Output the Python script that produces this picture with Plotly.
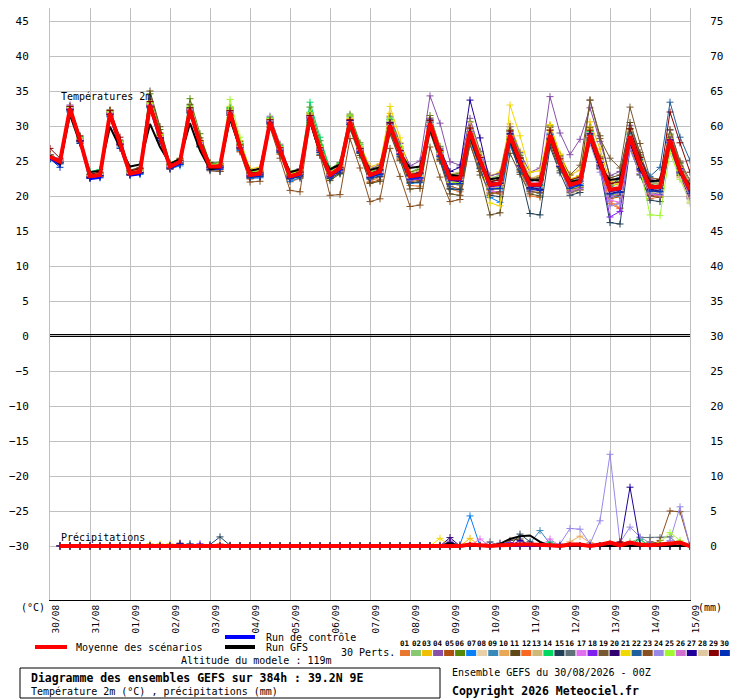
import plotly.graph_objects as go

# ---------------- axis categories ----------------
hours = list(range(0, 385, 6))          # 6-hourly steps 0..384h
p_hours = hours[1:]                       # precipitation starts at +6h
day_ticks = list(range(0, 385, 24))
day_labels = ["30/08", "31/08", "01/09", "02/09", "03/09", "04/09", "05/09", "06/09",
              "07/09", "08/09", "09/09", "10/09", "11/09", "12/09", "13/09", "14/09", "15/09"]
temp_ticks = [-30, -25, -20, -15, -10, -5, 0, 5, 10, 15, 20, 25, 30, 35, 40, 45]
mm_ticks = [0, 5, 10, 15, 20, 25, 30, 35, 40, 45, 50, 55, 60, 65, 70, 75]
pert_names = ["01", "02", "03", "04", "05", "06", "07", "08", "09", "10", "11", "12", "13", "14", "15",
              "16", "17", "18", "19", "20", "21", "22", "23", "24", "25", "26", "27", "28", "29", "30"]
pert_colors = ["#e87830", "#88c870", "#f0c000", "#8850a8", "#b05010", "#588808", "#0880f8", "#e8d0a8",
               "#3888b8", "#e8a858", "#604818", "#f86820", "#d0b878", "#00d860", "#204058", "#607078",
               "#e070f0", "#8020f0", "#785830", "#300070", "#f0d800", "#2060a0", "#885020", "#9888e8",
               "#a0f830", "#d070d0", "#200098", "#e0c8a0", "#880000", "#0030b8"]

# ---------------- temperatures 2m (degC) ----------------
mean_t = [25.6, 24.9, 32.5, 28.0, 22.8, 23.0, 31.8, 27.5, 23.2, 23.5, 33.0, 28.5, 24.2, 24.9, 32.3, 27.5,
          24.2, 24.2, 32.0, 27.0, 23.0, 23.2, 30.6, 26.6, 22.8, 23.2, 31.3, 26.6, 23.0, 24.0, 30.6, 26.6,
          23.0, 23.5, 30.1, 26.3, 22.8, 23.0, 30.4, 26.1, 22.5, 22.5, 29.2, 25.1, 21.6, 21.8, 28.7, 24.9,
          21.6, 21.6, 28.7, 24.7, 21.6, 22.0, 28.7, 24.7, 20.9, 21.1, 28.5, 24.4, 21.3, 21.3, 28.0, 23.7, 20.9]
ctrl_t = [25.4, 24.5, 32.3, 27.8, 22.4, 22.6, 31.4, 27.0, 22.9, 23.1, 32.6, 28.0, 24.0, 24.6, 32.0, 27.2,
          23.9, 24.0, 31.7, 26.8, 22.8, 23.0, 30.5, 26.4, 22.6, 23.0, 31.0, 26.4, 22.8, 23.7, 30.4, 26.4,
          22.8, 23.3, 29.9, 26.0, 22.6, 22.8, 30.2, 25.9, 22.3, 22.3, 29.0, 24.9, 21.4, 21.6, 28.5, 24.7,
          21.4, 21.4, 28.5, 24.5, 21.4, 21.8, 28.5, 24.5, 20.7, 20.9, 28.3, 24.2, 21.1, 21.1, 27.8, 23.5, 20.7]
gfs_t = [25.8, 24.6, 31.6, 27.4, 23.4, 23.6, 29.9, 26.9, 24.2, 24.5, 30.3, 27.0, 24.6, 25.3, 30.4, 26.5,
         23.8, 24.1, 31.0, 26.8, 23.6, 23.9, 30.4, 26.6, 23.4, 23.8, 30.7, 26.2, 23.8, 24.5, 30.2, 26.4,
         23.7, 24.1, 29.8, 26.2, 24.0, 24.2, 29.5, 25.8, 23.0, 22.9, 28.6, 24.6, 22.4, 22.6, 28.1, 24.3,
         22.3, 22.2, 28.4, 24.4, 22.0, 22.3, 28.2, 24.1, 22.3, 22.5, 28.0, 23.8, 22.1, 22.2, 27.6, 23.2, 21.6]

t01 = [25.8, 25.0, 32.7, 28.2, 22.6, 22.9, 31.5, 27.2, 23.4, 23.8, 33.4, 28.9, 24.0, 24.6, 31.9, 27.0,
       23.8, 23.6, 31.2, 26.4, 22.4, 22.8, 30.0, 26.0, 22.0, 22.5, 31.8, 27.2, 23.5, 24.3, 31.0, 26.9,
       22.1, 22.7, 29.5, 25.2, 21.5, 21.4, 29.4, 25.0, 21.0, 20.6, 28.3, 24.6, 20.8, 20.5, 27.9, 23.8,
       20.0, 19.8, 28.0, 24.9, 22.4, 22.9, 29.9, 25.2, 19.2, 18.3, 27.4, 23.1, 19.6, 19.9, 27.0, 22.7, 19.8]
t02 = [25.4, 24.7, 32.3, 28.1, 23.1, 23.4, 32.0, 27.9, 23.0, 23.1, 32.6, 28.2, 24.5, 25.2, 32.9, 27.8,
       24.6, 24.9, 32.5, 27.6, 23.5, 23.9, 31.0, 26.9, 23.6, 23.8, 32.0, 27.0, 22.4, 23.1, 29.7, 25.5,
       23.8, 24.4, 31.2, 27.0, 23.4, 24.1, 31.2, 26.8, 22.2, 21.7, 28.5, 24.2, 22.5, 23.0, 29.9, 26.0,
       20.8, 20.3, 27.5, 23.9, 21.0, 21.3, 27.8, 24.0, 21.8, 22.2, 29.6, 25.3, 22.0, 21.6, 28.9, 24.6, 21.5]
t03 = [25.7, 25.1, 32.6, 27.9, 22.9, 23.2, 32.2, 27.8, 23.3, 23.4, 32.8, 28.6, 24.3, 24.8, 32.0, 27.3,
       24.0, 24.3, 32.8, 27.9, 23.9, 24.1, 31.1, 27.2, 23.1, 23.5, 30.7, 26.0, 23.6, 24.6, 31.5, 27.4,
       24.2, 24.6, 31.8, 27.6, 21.9, 22.0, 29.4, 25.6, 21.7, 21.6, 28.2, 24.7, 22.9, 23.4, 30.3, 26.4,
       22.5, 22.9, 30.1, 26.0, 23.0, 23.7, 30.6, 26.7, 22.0, 22.4, 29.2, 25.5, 20.4, 20.1, 26.9, 22.9, 20.1]
t04 = [25.9, 25.2, 33.0, 28.4, 23.0, 23.3, 32.1, 27.7, 23.6, 23.9, 33.3, 28.7, 24.4, 25.0, 32.5, 27.9,
       24.5, 24.6, 32.4, 27.5, 23.3, 23.5, 31.4, 27.4, 23.4, 23.9, 31.6, 27.1, 23.5, 24.5, 31.3, 27.0,
       23.9, 24.4, 31.4, 27.5, 24.3, 25.0, 34.3, 30.4, 24.9, 24.4, 31.1, 26.4, 22.9, 23.2, 29.9, 26.2,
       23.4, 24.0, 34.2, 29.0, 25.9, 28.1, 32.6, 27.8, 22.9, 23.5, 30.1, 25.9, 22.4, 22.1, 29.4, 24.8, 21.8]
t05 = [25.5, 24.8, 32.4, 27.8, 22.7, 22.8, 31.6, 27.6, 23.1, 23.3, 32.9, 28.3, 23.8, 24.5, 32.4, 27.8,
       24.4, 24.1, 31.5, 26.6, 22.6, 22.7, 29.9, 26.0, 22.9, 23.4, 31.9, 27.3, 22.6, 23.4, 30.0, 26.1,
       21.9, 22.3, 29.2, 25.4, 22.1, 22.2, 30.0, 25.4, 21.4, 21.0, 29.0, 25.5, 20.5, 20.3, 27.5, 23.6,
       21.0, 20.9, 28.1, 24.1, 20.6, 20.9, 28.3, 24.4, 19.6, 19.9, 27.5, 24.0, 20.8, 21.0, 27.3, 23.5, 20.4]
t06 = [25.8, 25.0, 32.8, 28.3, 22.8, 23.1, 31.9, 27.8, 23.5, 23.9, 34.6, 29.5, 24.7, 25.4, 33.9, 28.9,
       24.6, 24.7, 32.6, 27.8, 23.6, 23.7, 31.0, 27.0, 23.1, 23.4, 32.7, 27.9, 23.9, 24.8, 31.7, 27.6,
       23.4, 23.8, 30.9, 26.8, 23.4, 23.8, 31.5, 27.1, 23.0, 23.3, 30.6, 26.3, 22.3, 22.7, 29.5, 25.8,
       22.3, 22.6, 30.0, 25.8, 22.0, 22.2, 29.8, 25.6, 21.4, 21.8, 29.6, 25.7, 21.8, 21.9, 28.8, 24.7, 21.7]
t07 = [25.4, 24.6, 32.2, 27.7, 22.5, 22.7, 31.4, 27.0, 23.0, 23.1, 32.7, 28.0, 23.9, 24.3, 31.8, 27.0,
       23.7, 23.5, 31.6, 26.5, 22.5, 22.6, 30.3, 26.2, 22.1, 22.6, 30.6, 25.9, 22.7, 23.5, 30.2, 26.3,
       22.5, 22.9, 29.4, 25.6, 21.8, 21.9, 29.9, 25.6, 21.1, 20.9, 28.0, 23.9, 19.8, 19.1, 27.2, 23.8,
       21.3, 21.2, 28.9, 25.0, 21.2, 21.6, 28.0, 24.0, 20.1, 20.0, 28.4, 24.6, 20.6, 20.2, 27.6, 23.2, 20.5]
t08 = [25.6, 24.9, 32.5, 28.1, 22.9, 23.1, 31.7, 27.4, 23.2, 23.6, 33.1, 28.4, 24.1, 24.7, 32.2, 27.6,
       24.3, 24.4, 31.9, 27.1, 23.1, 23.2, 30.4, 26.4, 22.6, 23.0, 31.0, 26.4, 22.9, 23.8, 30.9, 26.8,
       22.7, 23.3, 30.5, 26.4, 22.4, 22.6, 30.1, 26.0, 22.8, 22.9, 29.8, 25.6, 21.2, 21.4, 28.1, 24.3,
       21.9, 21.8, 29.3, 25.3, 21.4, 21.8, 28.4, 24.3, 21.2, 21.5, 28.9, 24.8, 20.6, 20.4, 27.0, 22.4, 19.3]
t09 = [25.3, 24.6, 32.1, 27.6, 22.7, 23.0, 31.9, 27.6, 23.2, 23.4, 32.7, 28.2, 24.3, 25.1, 32.6, 27.9,
       24.0, 24.2, 32.3, 27.3, 23.3, 23.6, 30.9, 26.9, 23.0, 23.5, 31.2, 26.5, 23.3, 24.1, 30.3, 26.2,
       23.5, 23.8, 30.6, 26.8, 23.1, 23.5, 30.8, 26.3, 22.1, 22.0, 28.4, 24.4, 21.9, 22.4, 29.2, 25.4,
       22.1, 22.4, 28.4, 24.2, 21.0, 21.3, 27.9, 24.1, 20.8, 20.5, 28.8, 25.0, 21.9, 22.1, 28.6, 24.2, 21.4]
t10 = [25.7, 25.0, 32.4, 28.0, 22.8, 23.0, 31.8, 27.6, 23.3, 23.5, 32.9, 28.5, 24.2, 24.9, 32.1, 27.3,
       24.1, 24.0, 31.7, 26.8, 22.8, 23.0, 30.8, 26.8, 22.8, 23.2, 31.1, 26.5, 22.6, 23.5, 30.1, 26.2,
       22.8, 23.3, 29.7, 25.8, 22.9, 23.1, 30.7, 26.4, 22.3, 22.5, 29.5, 25.3, 21.3, 21.6, 28.3, 24.6,
       21.0, 20.7, 27.8, 24.0, 20.4, 20.8, 27.6, 23.8, 18.9, 19.0, 27.8, 24.1, 20.9, 21.2, 28.3, 24.0, 20.2]
t11 = [25.9, 25.1, 32.6, 28.2, 23.0, 23.2, 32.3, 28.0, 23.7, 24.1, 35.0, 29.9, 24.6, 25.3, 33.1, 28.3,
       24.8, 24.6, 32.2, 27.3, 22.8, 22.9, 30.2, 26.3, 22.5, 22.7, 30.5, 25.8, 22.2, 23.2, 29.6, 25.8,
       21.8, 22.1, 28.9, 25.1, 21.0, 21.1, 29.1, 25.0, 20.3, 20.1, 27.5, 23.0, 17.3, 17.6, 26.1, 23.1,
       20.3, 20.0, 27.4, 23.6, 22.1, 22.4, 33.7, 28.6, 22.6, 23.0, 30.5, 26.2, 21.6, 21.5, 28.4, 24.3, 21.0]
t12 = [25.5, 24.8, 32.3, 27.9, 22.6, 22.8, 31.7, 27.3, 23.1, 23.4, 32.8, 28.3, 24.2, 24.8, 32.4, 27.6,
       24.2, 24.2, 32.1, 27.2, 23.0, 23.3, 30.7, 26.7, 22.7, 23.3, 31.5, 26.8, 22.8, 23.9, 30.8, 26.7,
       22.9, 23.4, 30.2, 26.2, 22.7, 22.8, 30.1, 25.9, 21.9, 22.1, 28.9, 24.8, 21.2, 21.1, 28.2, 24.4,
       21.5, 21.4, 28.3, 24.5, 20.8, 21.2, 28.1, 24.0, 18.9, 18.2, 27.1, 23.5, 20.2, 20.0, 27.4, 23.3, 20.3]
t13 = [25.6, 24.9, 32.6, 28.0, 22.8, 23.0, 31.9, 27.6, 23.2, 23.5, 33.0, 28.6, 24.2, 24.9, 32.3, 27.5,
       24.3, 24.3, 32.2, 27.2, 23.2, 23.4, 30.9, 26.9, 23.0, 23.4, 31.4, 26.7, 23.2, 24.2, 30.9, 26.8,
       23.2, 23.8, 30.6, 26.5, 23.3, 23.5, 31.2, 26.9, 23.2, 23.4, 30.5, 26.0, 22.4, 22.6, 29.4, 25.5,
       22.6, 22.8, 29.5, 25.4, 22.3, 22.6, 29.6, 25.5, 21.7, 21.8, 29.3, 25.0, 21.8, 21.9, 28.7, 24.3, 21.9]
t14 = [25.6, 25.0, 32.8, 28.5, 23.5, 23.8, 32.0, 27.8, 23.3, 23.6, 33.2, 28.8, 24.4, 25.1, 32.6, 27.9,
       24.5, 24.6, 32.6, 27.5, 23.4, 23.6, 31.2, 27.2, 23.2, 23.7, 33.4, 28.4, 23.8, 24.7, 31.4, 27.3,
       23.6, 24.0, 31.0, 27.0, 22.7, 22.9, 30.5, 26.3, 22.5, 22.4, 29.1, 25.0, 21.5, 21.6, 28.5, 24.8,
       21.4, 21.5, 28.6, 24.6, 22.1, 22.5, 29.2, 25.3, 21.1, 21.2, 28.7, 24.6, 20.8, 20.9, 27.8, 23.6, 20.6]
t15 = [25.4, 24.7, 32.3, 27.8, 22.7, 22.9, 31.6, 27.3, 23.0, 23.3, 32.8, 28.2, 24.0, 24.6, 32.1, 27.3,
       23.8, 23.9, 31.8, 26.8, 22.6, 22.9, 30.4, 26.3, 22.4, 22.8, 30.8, 26.2, 22.5, 23.3, 30.2, 26.1,
       22.4, 22.8, 29.6, 25.6, 21.9, 22.0, 29.6, 25.2, 21.0, 20.9, 28.2, 24.0, 20.1, 19.9, 27.6, 23.4,
       17.5, 17.3, 27.0, 23.3, 20.1, 20.5, 28.0, 23.9, 16.2, 16.0, 26.8, 23.0, 19.4, 19.2, 27.0, 22.9, 19.6]
t16 = [25.5, 24.8, 32.4, 28.0, 22.9, 23.1, 31.8, 27.5, 23.3, 23.6, 33.0, 28.4, 24.1, 24.7, 32.2, 27.5,
       24.1, 24.1, 31.8, 27.0, 22.9, 23.0, 30.5, 26.5, 22.6, 23.0, 31.2, 26.6, 22.9, 24.0, 30.5, 26.4,
       22.6, 23.1, 29.8, 26.0, 22.3, 22.5, 29.7, 25.6, 21.7, 21.6, 28.5, 24.5, 20.9, 21.0, 28.1, 24.3,
       20.7, 20.4, 28.0, 24.2, 20.5, 20.9, 28.2, 24.3, 19.8, 20.1, 28.1, 24.3, 20.5, 20.4, 27.7, 23.5, 20.7]
t17 = [25.7, 25.1, 32.9, 28.3, 23.0, 23.2, 31.9, 27.6, 23.4, 23.7, 33.1, 28.6, 24.3, 25.0, 32.5, 27.7,
       24.1, 24.2, 32.0, 27.0, 23.0, 23.1, 30.8, 26.8, 22.9, 23.4, 31.5, 26.9, 23.1, 24.0, 30.7, 26.6,
       23.2, 23.7, 30.4, 26.5, 22.6, 22.8, 30.2, 25.9, 22.6, 22.7, 29.5, 25.5, 20.7, 20.6, 28.0, 24.2,
       21.8, 21.9, 29.4, 25.4, 21.7, 22.1, 29.0, 25.0, 19.4, 19.1, 27.9, 24.2, 20.9, 21.1, 28.0, 23.8, 20.9]
t18 = [25.6, 24.9, 32.4, 27.9, 22.8, 23.0, 31.8, 27.4, 23.2, 23.5, 32.9, 28.4, 24.1, 24.8, 32.2, 27.4,
       24.0, 24.0, 31.9, 26.9, 22.8, 23.1, 30.6, 26.5, 22.7, 23.1, 31.1, 26.4, 22.8, 23.7, 30.5, 26.5,
       22.7, 23.2, 30.0, 26.1, 22.3, 22.4, 30.0, 25.7, 21.8, 21.9, 28.9, 24.7, 21.0, 21.2, 28.3, 24.4,
       21.2, 21.0, 28.6, 24.4, 21.1, 21.5, 28.5, 24.3, 17.0, 17.8, 27.6, 23.8, 20.1, 20.3, 27.6, 23.4, 20.0]
t19 = [25.6, 24.8, 32.5, 28.0, 22.8, 23.1, 31.9, 27.5, 23.3, 23.5, 33.1, 28.6, 24.3, 25.0, 32.4, 27.6,
       24.2, 24.3, 32.1, 27.1, 23.1, 23.3, 30.7, 26.7, 22.9, 23.3, 31.3, 26.7, 23.0, 24.0, 30.8, 26.7,
       23.1, 23.6, 30.3, 26.4, 23.0, 23.2, 30.6, 26.3, 22.7, 22.8, 29.7, 25.5, 22.0, 22.3, 29.3, 25.5,
       22.4, 22.6, 29.8, 25.6, 23.0, 24.4, 33.7, 28.2, 25.4, 24.0, 32.7, 27.5, 22.6, 22.4, 29.5, 25.0, 22.2]
t20 = [25.5, 24.8, 32.3, 27.9, 22.7, 22.9, 31.7, 27.4, 23.1, 23.4, 32.9, 28.3, 24.2, 24.9, 32.3, 27.5,
       24.1, 24.1, 31.9, 26.9, 22.9, 23.1, 30.6, 26.6, 22.7, 23.1, 31.2, 26.5, 22.9, 23.8, 30.4, 26.4,
       22.7, 23.2, 29.9, 26.0, 22.5, 22.6, 30.2, 25.9, 21.9, 22.1, 29.0, 24.8, 21.4, 21.5, 28.4, 24.7,
       21.1, 20.9, 28.2, 24.3, 21.3, 21.8, 28.6, 24.5, 20.4, 20.6, 28.2, 24.1, 20.9, 20.7, 27.9, 23.5, 20.6]
t21 = [25.8, 25.1, 32.7, 28.2, 23.0, 23.3, 32.0, 27.7, 23.4, 23.7, 33.2, 28.7, 24.4, 25.1, 32.5, 27.8,
       24.4, 24.5, 32.3, 27.4, 23.3, 23.5, 31.0, 27.0, 23.2, 23.6, 31.7, 27.0, 23.4, 24.3, 31.1, 27.0,
       23.6, 24.2, 32.8, 28.3, 23.2, 23.1, 30.9, 26.4, 21.9, 21.8, 29.6, 25.6, 19.0, 18.6, 33.0, 28.6,
       23.4, 23.6, 30.2, 25.9, 22.4, 22.9, 29.4, 25.3, 21.5, 21.8, 29.0, 24.9, 21.1, 21.0, 28.2, 24.0, 20.8]
t22 = [25.6, 24.9, 32.5, 28.0, 22.8, 23.0, 31.8, 27.4, 23.2, 23.5, 32.9, 28.4, 24.2, 24.9, 32.4, 27.6,
       24.3, 24.3, 32.0, 27.0, 23.1, 23.3, 30.7, 26.7, 22.8, 23.3, 31.3, 26.6, 23.0, 24.0, 30.7, 26.6,
       22.9, 23.5, 30.2, 26.3, 22.9, 23.1, 30.5, 26.2, 22.4, 22.5, 29.2, 25.1, 21.7, 21.9, 28.8, 25.0,
       21.6, 21.6, 28.8, 24.7, 21.7, 22.1, 28.8, 24.8, 21.4, 22.6, 29.0, 25.2, 22.8, 24.1, 33.4, 28.4, 25.1]
t23 = [25.7, 25.0, 32.6, 28.1, 22.9, 23.1, 31.9, 27.4, 23.2, 23.5, 33.0, 28.5, 24.0, 24.6, 32.0, 27.1,
       23.6, 23.5, 31.5, 26.3, 22.0, 22.1, 29.8, 25.4, 20.8, 20.6, 30.5, 25.8, 20.1, 20.2, 28.2, 24.0,
       19.2, 19.6, 26.8, 22.8, 18.5, 18.7, 27.0, 22.7, 19.2, 19.5, 27.4, 23.5, 20.3, 20.6, 28.0, 24.3,
       20.6, 20.5, 27.9, 24.2, 21.0, 21.2, 28.3, 24.8, 20.3, 20.1, 28.0, 24.3, 20.0, 19.8, 27.2, 23.1, 20.0]
t24 = [25.6, 24.9, 32.6, 28.1, 22.8, 23.0, 31.8, 27.4, 23.3, 23.6, 33.0, 28.5, 24.3, 25.0, 32.4, 27.6,
       24.2, 24.3, 32.1, 27.1, 23.0, 23.2, 30.8, 26.8, 22.8, 23.2, 31.4, 26.8, 23.1, 24.1, 30.8, 26.8,
       23.0, 23.5, 30.3, 26.4, 22.8, 23.0, 30.6, 26.2, 22.6, 22.7, 29.5, 25.3, 21.8, 22.0, 29.0, 25.1,
       21.7, 21.8, 29.0, 25.0, 21.9, 22.5, 27.5, 23.4, 18.6, 18.9, 26.7, 23.2, 21.2, 21.0, 27.6, 23.7, 20.5]
t25 = [25.5, 24.9, 32.7, 28.3, 23.0, 23.3, 32.1, 27.8, 23.4, 23.7, 33.3, 28.8, 24.5, 25.2, 32.8, 27.9,
       24.5, 24.6, 33.8, 28.4, 23.5, 23.7, 31.1, 27.0, 23.3, 23.8, 31.9, 27.1, 23.4, 24.4, 31.3, 27.1,
       23.3, 23.9, 30.8, 26.8, 22.6, 22.9, 30.4, 26.1, 22.0, 21.9, 28.9, 24.7, 21.1, 21.2, 28.4, 24.5,
       21.2, 21.1, 28.5, 24.4, 21.0, 21.4, 28.2, 24.3, 20.2, 20.3, 28.0, 24.1, 17.3, 17.2, 26.2, 22.4, 19.1]
t26 = [25.7, 25.0, 32.5, 28.0, 22.9, 23.1, 31.8, 27.5, 23.2, 23.5, 33.0, 28.5, 24.2, 24.9, 32.3, 27.6,
       24.2, 24.2, 32.0, 27.0, 23.0, 23.2, 30.7, 26.7, 22.8, 23.2, 31.3, 26.6, 23.0, 24.0, 30.6, 26.6,
       22.8, 23.3, 30.1, 26.2, 22.5, 22.7, 30.3, 26.0, 22.2, 22.3, 29.1, 25.0, 21.2, 21.4, 28.5, 24.6,
       20.9, 20.8, 28.4, 24.4, 20.7, 21.1, 28.3, 24.2, 19.9, 20.3, 28.3, 24.3, 20.3, 20.1, 27.8, 23.4, 19.8]
t27 = [25.6, 24.9, 32.4, 27.9, 22.7, 22.9, 31.7, 27.4, 23.2, 23.4, 32.9, 28.4, 24.2, 24.9, 32.3, 27.5,
       24.2, 24.2, 32.0, 27.0, 23.0, 23.2, 30.6, 26.6, 22.8, 23.3, 31.4, 26.7, 23.0, 24.0, 30.8, 26.7,
       23.2, 23.7, 30.5, 26.5, 22.9, 23.3, 31.0, 26.7, 23.5, 24.1, 33.7, 28.3, 21.9, 21.8, 28.9, 24.9,
       21.2, 21.0, 28.1, 24.2, 21.4, 21.8, 28.9, 24.8, 20.3, 20.6, 27.6, 23.7, 21.0, 21.1, 28.1, 23.9, 21.2]
t28 = [25.6, 25.0, 32.6, 28.1, 22.9, 23.1, 31.9, 27.6, 23.2, 23.5, 33.0, 28.5, 24.2, 24.9, 32.3, 27.5,
       24.2, 24.3, 32.0, 27.1, 23.1, 23.3, 30.7, 26.7, 22.9, 23.3, 31.3, 26.7, 23.0, 24.0, 30.6, 26.6,
       22.9, 23.4, 30.0, 26.2, 22.6, 22.8, 30.2, 26.0, 22.3, 22.4, 29.1, 25.0, 21.4, 21.6, 28.6, 24.7,
       21.4, 21.3, 28.5, 24.5, 21.3, 21.8, 28.5, 24.6, 20.6, 20.8, 28.3, 24.3, 20.6, 20.4, 27.4, 22.8, 18.9]
t29 = [26.8, 25.4, 32.8, 28.6, 23.1, 23.4, 32.2, 28.4, 23.6, 23.9, 33.5, 29.0, 24.5, 25.1, 32.6, 27.9,
       24.3, 24.4, 32.2, 27.3, 23.3, 23.4, 30.9, 26.9, 23.0, 23.4, 31.5, 26.9, 23.2, 24.1, 30.9, 26.8,
       23.2, 23.8, 30.4, 26.5, 23.1, 23.3, 30.8, 26.5, 22.8, 22.9, 29.7, 25.5, 22.1, 22.3, 29.3, 25.4,
       22.2, 22.3, 29.4, 25.3, 22.3, 22.7, 29.4, 25.4, 21.8, 22.0, 29.6, 25.5, 22.1, 22.3, 32.0, 27.6, 23.4]
t30 = [25.3, 24.1, 32.0, 27.5, 22.5, 22.6, 31.3, 26.8, 23.0, 23.2, 32.6, 27.9, 23.9, 24.5, 31.9, 27.1,
       23.8, 23.8, 31.6, 26.7, 22.7, 22.8, 30.4, 26.3, 22.5, 22.9, 30.9, 26.2, 22.7, 23.6, 30.2, 26.2,
       22.6, 23.1, 29.7, 25.9, 22.4, 22.6, 29.9, 25.7, 21.7, 21.8, 28.7, 24.6, 21.0, 21.1, 28.1, 24.3,
       21.0, 20.8, 28.2, 24.2, 21.1, 21.5, 28.3, 24.3, 20.3, 20.5, 28.0, 23.9, 20.7, 20.6, 27.6, 23.3, 20.4]

# ---------------- precipitation (mm per 6h), +6h .. +384h ----------------
mean_p = [0, 0, 0, 0, 0, 0, 0, 0, 0, 0, 0, 0, 0, 0, 0, 0,
          0, 0, 0, 0, 0, 0, 0, 0, 0, 0, 0, 0, 0, 0, 0, 0,
          0, 0, 0, 0, 0, 0, 0.1, 0.1, 0, 0.2, 0.1, 0, 0.1, 0.2, 0.2, 0.2,
          0.2, 0.1, 0, 0.2, 0.2, 0, 0.2, 0.5, 0.1, 0.5, 0.2, 0.1, 0.2, 0.4, 0.5, 0]
ctrl_p = [0, 0, 0, 0, 0, 0, 0, 0, 0, 0, 0, 0, 0, 0, 0, 0,
          0, 0, 0, 0, 0, 0, 0, 0, 0, 0, 0, 0, 0, 0, 0, 0,
          0, 0, 0, 0, 0, 0, 0, 0, 0, 0, 0, 0, 0, 0, 0, 0,
          0, 0, 0, 0, 0, 0, 0, 0, 0, 0, 0, 0, 0, 0, 0, 0]
gfs_p = [0, 0, 0, 0, 0, 0, 0, 0, 0, 0, 0, 0, 0, 0, 0, 0,
         0, 0, 0, 0, 0, 0, 0, 0, 0, 0, 0, 0, 0, 0, 0, 0,
         0, 0, 0, 0, 0, 0, 0, 0.4, 0, 0, 0, 0, 0.3, 1.0, 1.4, 1.5,
         0.6, 0, 0, 0, 0, 0, 0, 0, 0, 0, 0, 0, 0, 0, 0, 0]

p01 = [0, 0, 0, 0, 0, 0, 0, 0, 0, 0, 0, 0, 0, 0, 0, 0,
       0, 0, 0, 0, 0, 0, 0, 0, 0, 0, 0, 0, 0, 0, 0, 0,
       0, 0, 0, 0, 0, 0, 0, 0, 0, 0, 0, 0, 0, 0, 0, 0,
       0, 0, 0, 0, 0, 0, 0, 0.4, 0, 0, 0, 0, 0, 0, 0, 0]
p02 = [0, 0, 0, 0, 0, 0, 0, 0, 0, 0, 0, 0, 0, 0, 0, 0,
       0, 0, 0, 0, 0, 0, 0, 0, 0, 0, 0, 0, 0, 0, 0, 0,
       0, 0, 0, 0, 0, 0, 0, 0, 0, 0, 0, 0, 0, 0, 0, 0,
       0, 0, 0, 0, 0, 0, 0, 0, 0, 0.6, 1.0, 0, 0, 0, 0, 0]
p03 = [0, 0, 0, 0, 0, 0, 0, 0, 0, 0.3, 0, 0.3, 0, 0, 0, 0,
       0, 0, 0, 0, 0, 0, 0, 0, 0, 0, 0, 0, 0, 0, 0, 0,
       0, 0, 0, 0, 0, 0, 0, 0, 0, 1.1, 0, 0, 0, 0, 0, 0,
       0, 0, 0, 0, 0, 0, 0, 0, 0, 0, 0, 0, 0, 0, 0, 0]
p04 = [0, 0, 0, 0, 0, 0, 0, 0, 0, 0, 0, 0, 0, 0, 0, 0,
       0, 0, 0, 0, 0, 0, 0, 0, 0, 0, 0, 0, 0, 0, 0, 0,
       0, 0, 0, 0, 0, 0, 0, 0.7, 0, 0, 0, 0, 0, 0, 0, 0,
       0, 0, 0, 0, 0, 0, 0, 0, 0, 0, 0, 0, 0, 0, 0, 0]
p05 = [0, 0, 0, 0, 0, 0, 0, 0, 0, 0, 0, 0, 0, 0, 0, 0,
       0, 0, 0, 0, 0, 0, 0, 0, 0, 0, 0, 0, 0, 0, 0, 0,
       0, 0, 0, 0, 0, 0, 0, 0, 0, 0, 0, 0, 0, 0, 0, 0,
       0, 0, 0, 0, 0, 0, 0, 0, 0, 0, 0, 0, 0, 0, 0.5, 0]
p06 = [0, 0, 0, 0, 0, 0, 0, 0, 0, 0, 0, 0, 0, 0, 0, 0,
       0, 0, 0, 0, 0, 0, 0, 0, 0, 0, 0, 0, 0, 0, 0, 0,
       0, 0, 0, 0, 0, 0, 0, 0, 0, 0, 0, 0, 0, 0, 0, 0,
       0, 0, 0, 0, 0, 0, 0, 0, 0, 0, 0, 0, 0, 0, 0, 0]
p07 = [0, 0, 0, 0, 0, 0, 0, 0, 0, 0, 0, 0, 0, 0.3, 0, 0,
       0, 0, 0, 0, 0, 0, 0, 0, 0, 0, 0, 0, 0, 0, 0, 0,
       0, 0, 0, 0, 0, 0, 0, 0, 0.2, 4.3, 0, 0, 0, 0, 0, 0,
       0, 0, 0, 0, 0, 0, 0, 0, 0, 0, 0, 0, 0, 0, 0, 0]
p08 = [0, 0, 0, 0, 0, 0, 0, 0, 0, 0, 0, 0, 0, 0, 0, 0,
       0, 0, 0, 0, 0, 0, 0, 0, 0, 0, 0, 0, 0, 0, 0, 0,
       0, 0, 0, 0, 0, 0, 0, 0, 0, 0, 0, 0, 0, 0, 0, 0,
       0, 0, 0, 0, 0, 0, 0, 0, 0, 0, 0, 0, 0, 0, 0, 0]
p09 = [0, 0, 0, 0, 0, 0, 0, 0, 0, 0, 0, 0, 0, 0, 0, 0,
       0, 0, 0, 0, 0, 0, 0, 0, 0, 0, 0, 0, 0, 0, 0, 0,
       0, 0, 0, 0, 0, 0, 0, 0, 0, 0, 0, 0, 0, 0, 0, 0.4,
       2.2, 0.3, 0, 0, 0, 0, 0, 0, 0, 0, 0, 0, 0, 0, 0, 0]
p10 = [0, 0, 0, 0, 0, 0, 0, 0, 0, 0, 0, 0, 0.3, 0, 0, 0,
       0, 0, 0, 0, 0, 0, 0, 0, 0, 0, 0, 0, 0, 0, 0, 0,
       0, 0, 0, 0, 0, 0, 0, 0, 0, 0, 0, 0, 0, 0, 0, 0,
       0, 0, 0, 0.6, 1.4, 0.5, 0, 0, 0, 0, 0, 0.5, 0, 0, 0, 0]
p11 = [0, 0, 0, 0, 0, 0, 0, 0, 0, 0, 0, 0, 0, 0, 0, 0,
       0, 0, 0, 0, 0, 0, 0, 0, 0, 0, 0, 0, 0, 0, 0, 0,
       0, 0, 0, 0, 0, 0, 0, 0, 0, 0, 0, 0, 0, 0.8, 1.0, 0,
       0, 0, 0, 0, 0, 0, 0, 0, 0, 0, 0, 0, 0, 0, 0, 0]
p12 = [0, 0, 0, 0, 0, 0, 0, 0, 0, 0, 0, 0, 0, 0, 0, 0,
       0.3, 0, 0, 0, 0, 0, 0, 0, 0, 0, 0, 0, 0, 0, 0, 0,
       0, 0, 0, 0, 0, 0, 0, 0, 0, 0, 0, 0, 0, 0, 0, 0,
       0, 0, 0, 0, 0, 0, 0, 0, 0, 0, 0, 0, 0, 0, 0, 0]
p13 = [0, 0, 0, 0, 0, 0, 0, 0, 0, 0, 0, 0, 0, 0, 0, 0,
       0, 0, 0, 0, 0, 0, 0, 0, 0, 0, 0, 0, 0, 0, 0, 0,
       0, 0, 0, 0, 0, 0, 0, 0, 0, 0, 0, 0, 0, 0, 0, 0,
       0, 0, 0, 0, 0, 0, 0, 0, 0, 0, 0, 0, 0, 0, 0, 0]
p14 = [0, 0, 0, 0, 0, 0, 0, 0, 0, 0, 0, 0, 0, 0, 0, 0,
       0, 0, 0, 0, 0, 0, 0, 0, 0, 0, 0, 0, 0, 0, 0, 0,
       0, 0, 0, 0, 0, 0, 0, 0, 0, 0, 0, 0, 0, 0, 0, 0,
       0, 0.6, 0, 0, 0, 0, 0, 0, 0, 0, 0.9, 0, 0, 0, 0, 0]
p15 = [0, 0, 0, 0, 0, 0, 0, 0, 0, 0, 0, 0, 0, 0, 0, 0.2,
       1.3, 0.1, 0, 0, 0, 0, 0, 0, 0, 0, 0, 0, 0, 0, 0, 0,
       0, 0, 0, 0, 0, 0, 0, 0, 0, 0, 0, 0, 0, 0, 1.7, 0.6,
       0, 0, 0, 0, 0, 0, 0, 0, 0, 0, 0, 0, 0, 0, 0, 0]
p16 = [0, 0, 0, 0, 0, 0, 0, 0, 0, 0, 0, 0, 0, 0.3, 0, 0,
       0, 0, 0, 0, 0, 0, 0, 0, 0, 0, 0, 0, 0, 0, 0, 0,
       0, 0, 0, 0, 0, 0, 0, 0, 0, 0, 0, 0.6, 0, 0, 0, 0,
       0, 0, 0, 0, 0, 0, 0, 0, 0, 0, 1.2, 1.2, 1.2, 1.3, 0, 0]
p17 = [0, 0, 0, 0, 0, 0, 0, 0, 0, 0, 0, 0, 0, 0, 0, 0,
       0, 0, 0, 0, 0, 0, 0, 0, 0, 0, 0, 0, 0, 0, 0, 0,
       0, 0, 0, 0, 0, 0, 0, 0, 0, 0, 1.0, 0, 0, 0, 0, 0,
       0, 1.0, 0, 0, 0, 0, 0, 0, 0, 0, 0, 0, 0, 0, 0, 0]
p18 = [0, 0, 0, 0, 0, 0, 0, 0, 0, 0, 0, 0, 0, 0, 0.3, 0,
       0, 0, 0, 0, 0, 0, 0, 0, 0, 0, 0, 0, 0, 0, 0, 0,
       0, 0, 0, 0, 0, 0, 0, 0, 0, 0, 0, 0, 0, 0.5, 0, 0,
       0, 0, 0, 0, 0, 0, 0, 0, 0, 0, 0, 0, 0, 0, 0, 0]
p19 = [0, 0, 0, 0, 0, 0, 0, 0, 0, 0, 0, 0, 0, 0, 0, 0,
       0, 0, 0, 0, 0, 0, 0, 0, 0, 0, 0, 0, 0, 0, 0, 0,
       0, 0, 0, 0, 0, 0, 0, 0, 0, 0, 0, 0, 0, 0, 0, 0,
       0, 0, 0, 0, 0, 0, 0, 0, 0, 0, 0, 0.6, 0.4, 0, 0, 0]
p20 = [0, 0, 0, 0, 0, 0, 0, 0, 0, 0, 0, 0, 0, 0, 0, 0,
       0, 0, 0, 0, 0, 0, 0, 0, 0, 0, 0, 0, 0, 0, 0, 0,
       0, 0, 0, 0, 0, 0, 0, 1.2, 0, 0, 0, 0, 0.4, 0, 0, 0,
       0, 0, 0, 0, 0, 0, 0, 0, 0, 0, 0, 0, 0, 0, 0, 0]
p21 = [0, 0, 0, 0, 0, 0, 0, 0, 0, 0, 0.3, 0, 0, 0, 0, 0,
       0, 0, 0, 0, 0, 0, 0, 0, 0, 0, 0, 0, 0, 0, 0, 0,
       0, 0, 0, 0, 0, 0, 1.1, 0, 0, 0.3, 0, 0, 0, 0, 0, 0,
       0, 0, 0, 0, 0, 0, 0, 0, 0, 0, 0, 0, 0, 0, 0, 0]
p22 = [0, 0, 0, 0, 0, 0, 0, 0, 0, 0, 0, 0, 0, 0, 0, 0,
       0, 0, 0, 0, 0, 0, 0, 0, 0, 0, 0, 0, 0, 0, 0, 0,
       0, 0, 0, 0, 0, 0, 0, 0, 0, 0, 0, 0, 0, 0, 0, 0,
       0, 0, 0, 0, 0, 0, 0, 0, 0.3, 0, 0, 0, 0, 0, 0, 0]
p23 = [0, 0, 0, 0, 0, 0, 0, 0, 0, 0, 0, 0, 0, 0, 0, 0,
       0, 0, 0, 0, 0, 0, 0, 0, 0, 0, 0, 0, 0, 0, 0, 0,
       0, 0, 0, 0, 0, 0, 0, 0, 0, 0, 0, 0, 0, 0, 0, 0,
       0, 0, 0, 0, 0, 0, 0, 0, 0, 0, 0, 0, 0.8, 5.0, 4.9, 0]
p24 = [0, 0, 0, 0, 0, 0, 0, 0, 0, 0, 0, 0, 0, 0, 0, 0,
       0, 0, 0, 0, 0, 0, 0, 0, 0, 0, 0, 0, 0, 0, 0, 0,
       0, 0, 0, 0, 0, 0, 0, 0, 0, 0, 0, 0, 0, 0, 0, 0,
       0, 0, 0.3, 2.5, 2.4, 0.3, 3.6, 13.1, 0.5, 2.7, 1.3, 0.4, 0, 0.8, 5.6, 0]
p25 = [0, 0, 0, 0, 0, 0, 0, 0, 0, 0, 0, 0, 0, 0, 0, 0,
       0, 0, 0, 0, 0, 0, 0, 0, 0, 0, 0, 0, 0, 0, 0, 0,
       0, 0, 0, 0, 0, 0, 0, 0, 0, 0, 0, 0, 0, 0, 0, 0,
       0, 0, 0, 0, 0, 0, 0, 0, 0, 0, 0, 0, 0.5, 1.9, 0.8, 0]
p26 = [0, 0, 0, 0, 0, 0, 0, 0, 0, 0, 0, 0, 0, 0, 0, 0,
       0, 0, 0, 0, 0, 0, 0, 0, 0, 0, 0, 0, 0, 0, 0, 0,
       0, 0, 0, 0, 0, 0, 0, 0, 0, 0, 0, 0, 0, 0, 0.4, 0,
       0, 0, 0, 0, 0, 0, 0, 0, 0, 0, 0, 0, 0, 0, 0, 0]
p27 = [0, 0, 0, 0, 0, 0, 0, 0, 0, 0, 0, 0, 0, 0, 0, 0,
       0, 0, 0, 0, 0, 0, 0, 0, 0, 0, 0, 0, 0, 0, 0, 0,
       0, 0, 0, 0, 0, 0, 0, 0.5, 0, 0, 0, 0, 0, 0, 0.8, 0,
       0, 0, 0, 0, 0, 0, 0, 0, 0, 8.4, 0.3, 0, 0, 0, 0, 0]
p28 = [0, 0, 0, 0, 0, 0, 0, 0, 0, 0, 0, 0, 0, 0, 0, 0,
       0, 0, 0, 0, 0, 0, 0, 0, 0, 0, 0, 0, 0, 0, 0, 0,
       0, 0, 0, 0, 0, 0, 0, 0, 0, 0, 0, 0, 0, 0, 0, 0,
       0, 0, 0, 0, 0, 0, 0, 0, 0, 0, 0, 0, 0, 0, 0, 0]
p29 = [0, 0, 0, 0, 0, 0, 0, 0, 0, 0, 0, 0, 0.4, 0, 0, 0,
       0, 0, 0, 0, 0, 0, 0, 0, 0, 0, 0, 0, 0, 0, 0, 0,
       0, 0, 0, 0, 0, 0, 0, 0, 0, 0, 0, 0, 0, 0, 0, 0,
       0, 0, 0, 0, 0, 0, 0, 0, 0.6, 0, 0, 0, 0, 0, 0, 0]
p30 = [0, 0, 0, 0, 0, 0, 0, 0, 0, 0, 0, 0, 0.3, 0, 0, 0,
       0, 0, 0, 0, 0, 0, 0, 0, 0, 0, 0, 0, 0, 0, 0, 0,
       0, 0, 0, 0, 0, 0, 0, 0, 0, 0, 0, 0, 0, 0, 0, 0,
       0, 0, 0, 0, 0, 0, 0, 0, 0, 0, 0, 0, 0, 0, 0, 0]

pert_t = [t01, t02, t03, t04, t05, t06, t07, t08, t09, t10, t11, t12, t13, t14, t15,
          t16, t17, t18, t19, t20, t21, t22, t23, t24, t25, t26, t27, t28, t29, t30]
pert_p = [p01, p02, p03, p04, p05, p06, p07, p08, p09, p10, p11, p12, p13, p14, p15,
          p16, p17, p18, p19, p20, p21, p22, p23, p24, p25, p26, p27, p28, p29, p30]

# ---------------- layout geometry ----------------
# The page body has an 8px margin, so the figure's origin lands at (8, 8) in the
# screenshot; positions below are given in screenshot pixels and converted.
FONT = "DejaVu Sans Mono"
OFF = 8
W, H = 740 - OFF, 700 - OFF
PL, PR, PT, PB = 50, 690, 8, 600          # plot area in screenshot pixels
Y0_PIX, PIX_PER_DEG = 336, 7.0            # 0 degC line and scale
Y_TOP = (Y0_PIX - PT) / PIX_PER_DEG
Y_BOT = (Y0_PIX - PB) / PIX_PER_DEG
MM_OFFSET = 30                            # right axis (mm) = left axis + 30


def px(x):
    return (x - PL) / (PR - PL)


def py(y):
    return (PB - y) / (PB - PT)


fig = go.Figure()

for vals, col, name in zip(pert_t, pert_colors, pert_names):
    fig.add_trace(go.Scatter(x=hours, y=vals, mode="lines+markers", name=name,
                             line=dict(color=col, width=1),
                             marker=dict(symbol="cross-thin", size=5, line=dict(color=col, width=1))))
for vals, col, name in zip(pert_p, pert_colors, pert_names):
    fig.add_trace(go.Scatter(x=p_hours, y=vals, yaxis="y2", mode="lines+markers", name=name,
                             line=dict(color=col, width=1),
                             marker=dict(symbol="cross-thin", size=5, line=dict(color=col, width=1))))

fig.add_trace(go.Scatter(x=hours, y=ctrl_t, mode="lines", line=dict(color="#0000ff", width=2)))
fig.add_trace(go.Scatter(x=p_hours, y=ctrl_p, yaxis="y2", mode="lines", line=dict(color="#0000ff", width=2)))
fig.add_trace(go.Scatter(x=hours, y=gfs_t, mode="lines", line=dict(color="#000000", width=2)))
fig.add_trace(go.Scatter(x=p_hours, y=gfs_p, yaxis="y2", mode="lines", line=dict(color="#000000", width=2)))
fig.add_trace(go.Scatter(x=hours, y=mean_t, mode="lines", line=dict(color="#ff0000", width=4)))
fig.add_trace(go.Scatter(x=p_hours, y=mean_p, yaxis="y2", mode="lines", line=dict(color="#ff0000", width=4)))

GRID = "#c0c0c0"
fig.update_layout(
    width=W, height=H, showlegend=False,
    margin=dict(l=PL - OFF, r=W - (PR - OFF), t=PT - OFF, b=H - (PB - OFF), pad=0, autoexpand=False),
    paper_bgcolor="white", plot_bgcolor="white",
    font=dict(family=FONT, color="black", size=10),
    xaxis=dict(range=[0, 384], tickvals=day_ticks, ticktext=day_labels, tickangle=-90,
               showgrid=True, gridcolor=GRID, gridwidth=1, zeroline=False, automargin=False,
               showline=True, linecolor="black", linewidth=1, ticks="", ticklen=0,
               ticklabelshift=6, ticklabelstandoff=0, tickfont=dict(size=9.5)),
    yaxis=dict(range=[Y_BOT, Y_TOP], tickvals=temp_ticks, showgrid=True, gridcolor=GRID,
               zeroline=False, showline=True, linecolor=GRID, ticks="", ticklen=0, automargin=False,
               ticklabelstandoff=18, tickfont=dict(size=11)),
    yaxis2=dict(range=[Y_BOT + MM_OFFSET, Y_TOP + MM_OFFSET], tickvals=mm_ticks, overlaying="y",
                side="right", showgrid=False, zeroline=False, showline=True, linecolor=GRID,
                ticks="", ticklen=0, automargin=False, ticklabelstandoff=17, tickfont=dict(size=11)),
)

shapes = []
# double black line at 0 degC
for yv in (0.21, -0.07):
    shapes.append(dict(type="line", xref="paper", yref="y", x0=0, x1=1, y0=yv, y1=yv,
                       line=dict(color="black", width=1.2)))
# legend samples
shapes.append(dict(type="line", xref="paper", yref="paper", x0=px(35), x1=px(67), y0=py(647), y1=py(647),
                   line=dict(color="#ff0000", width=4)))
shapes.append(dict(type="line", xref="paper", yref="paper", x0=px(225), x1=px(255), y0=py(637), y1=py(637),
                   line=dict(color="#0000ff", width=4)))
shapes.append(dict(type="line", xref="paper", yref="paper", x0=px(225), x1=px(255), y0=py(647), y1=py(647),
                   line=dict(color="#000000", width=4)))
for k, col in enumerate(pert_colors):
    x0 = 400 + 11.03 * k
    shapes.append(dict(type="rect", xref="paper", yref="paper", x0=px(x0), x1=px(x0 + 10),
                       y0=py(650), y1=py(656), line=dict(width=0), fillcolor=col))
# title box
shapes.append(dict(type="rect", xref="paper", yref="paper", x0=px(20), x1=px(440), y0=py(668), y1=py(698),
                   line=dict(color="black", width=1), fillcolor="rgba(0,0,0,0)"))
fig.update_layout(shapes=shapes)

ann = []


def text(x, y, s, size=10, anchor="left"):
    ann.append(dict(x=px(x), y=py(y), xref="paper", yref="paper", text=s, showarrow=False,
                    xanchor=anchor, yanchor="middle", font=dict(family=FONT, size=size, color="black")))


text(59, 96, "Températures 2m")
text(59, 537, "Précipitations")
text(19, 607, "(°C)")
text(696, 607, "(mm)")
text(74, 647, "Moyenne des scénarios")
text(264, 637, "Run de contrôle")
text(264, 647, "Run GFS")
text(339, 652, "30 Perts.")
text(179, 660, "Altitude du modele : 119m")
text(29, 678, "<b>Diagramme des ensembles GEFS sur 384h : 39.2N 9E</b>", size=11.5)
text(29, 691, "Température 2m (°C) , précipitations (mm)")
text(450, 672, "Ensemble GEFS du 30/08/2026 - 00Z")
text(450, 691, "<b>Copyright 2026 Meteociel.fr</b>", size=11.5)
for k, name in enumerate(pert_names):
    text(405 + 11.03 * k, 643, "<b>" + name + "</b>", size=7.5, anchor="center")
fig.update_layout(annotations=ann)

fig.write_html("out.html")
